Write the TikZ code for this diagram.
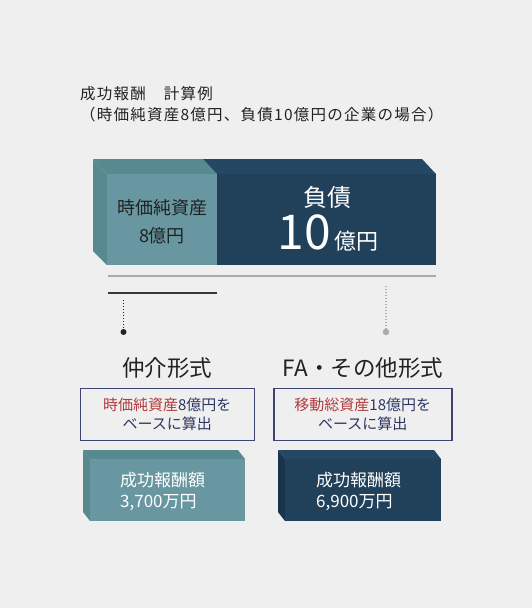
\documentclass[tikz,border=0pt]{standalone}
\usepackage{fontspec}
\setmainfont{Noto Sans CJK JP}
\newfontfamily\titlefont[LetterSpace=8]{Noto Sans CJK JP}
\usepackage{tikz}

\definecolor{bgGray}{HTML}{EFEFEF}
\definecolor{tealFront}{HTML}{6897A1}
\definecolor{tealTop}{HTML}{578A8E}
\definecolor{navyFront}{HTML}{21405A}
\definecolor{navyTop}{HTML}{244863}
\definecolor{navySide}{HTML}{1A344E}
\definecolor{frameNavy}{HTML}{3D4470}
\definecolor{textNavy}{HTML}{2E3864}
\definecolor{textRed}{HTML}{B23A3A}
\definecolor{lineGray}{HTML}{ABABAB}
\definecolor{inkDark}{HTML}{222222}

\newcommand{\jfont}[2]{\fontsize{#1}{#2}\selectfont}

\begin{document}
\begin{tikzpicture}[x=1pt,y=-1pt,
    jtext/.style={inner sep=0, text=inkDark},
    memo/.style={draw=frameNavy, line width=1.5pt, minimum width=174pt, minimum height=52pt,
                 align=center, font=\jfont{15}{19}, text=textNavy, inner sep=0},
    fee/.style={anchor=west, align=left, inner sep=0, font=\jfont{17}{21}, text=white},
    dotline/.style={line width=1.3pt, dash pattern=on 1.3pt off 1.7pt}]
      % 背景
      \fill[bgGray] (0,0) rectangle (532,608);
      \useasboundingbox (0,0) rectangle (532,608);

      % 見出し
      \node[jtext, anchor=north west, align=left, font=\titlefont\jfont{15.5}{21.5}] (title) at (80,86)
        {成功報酬　計算例\\（時価純資産8億円、負債10億円の企業の場合）};

      % 上の箱(奥行き)
      \fill[tealTop] (93,159) -- (203,159) -- (217,174) -- (107,174) -- cycle;
      \fill[tealTop] (93,159) -- (107,174) -- (107,265) -- (93,251) -- cycle;
      \fill[navyTop] (203,159) -- (422,159) -- (436,174) -- (217,174) -- cycle;
      \fill[tealFront] (107,174) rectangle (217,265);
      \fill[navyFront] (217,174) rectangle (436,265);

      \node[jtext, align=center, font=\jfont{18}{28}] (equity) at (162,222) {時価純資産\\8億円};
      \node[jtext, text=white, font=\jfont{24}{24}] (debt) at (327,197) {負債};
      \node[jtext, text=white, anchor=base] (debtVal) at (328,249)
        {{\jfont{48}{48}1\kern1pt0}\kern3pt{\jfont{22}{22}億円}};

      % 区切り線
      \draw[lineGray, line width=1.5pt] (108,276) -- (436,276);
      \draw[inkDark!90, line width=1.5pt] (108,293) -- (217,293);

      % 点線と点
      \coordinate (topA) at (123.5,300);
      \coordinate (topB) at (386,286);
      \node[circle, fill=inkDark, inner sep=0, minimum size=6pt] (dotA) at (123.5,332) {};
      \node[circle, fill=lineGray, inner sep=0, minimum size=6.5pt] (dotB) at (386,332) {};
      \draw[dotline, inkDark] (topA) -- (dotA.north);
      \draw[dotline, lineGray] (topB) -- (dotB.north);

      % 形式
      \node[jtext, font=\jfont{22.5}{22.5}] (chukai) at (167,368) {仲介形式};
      \node[jtext, font=\jfont{22.5}{22.5}] (faForm) at (363,368) {FA・その他形式};

      \node[memo] (memoA) at (167.3,414.5)
        {\textcolor{textRed}{時価純資産}8億円を\\ベースに算出};
      \node[memo, minimum width=178pt] (memoB) at (362.8,414.5)
        {\textcolor{textRed}{移動総資産}18億円を\\ベースに算出};

      % 成功報酬額の箱
      \fill[tealTop] (83,450) -- (238,450) -- (245,459) -- (90,459) -- cycle;
      \fill[tealTop] (83,450) -- (90,459) -- (90,521) -- (83,512) -- cycle;
      \fill[tealFront] (90,459) rectangle (245,521);
      \fill[navyTop] (278,450) -- (434,450) -- (441,459) -- (285,459) -- cycle;
      \fill[navySide] (278,450) -- (285,459) -- (285,521) -- (278,512) -- cycle;
      \fill[navyFront] (285,459) rectangle (441,521);

      \node[fee] (feeA) at (120,491) {成功報酬額\\3,700万円};
      \node[fee] (feeB) at (316,491) {成功報酬額\\6,900万円};
\end{tikzpicture}
\end{document}
